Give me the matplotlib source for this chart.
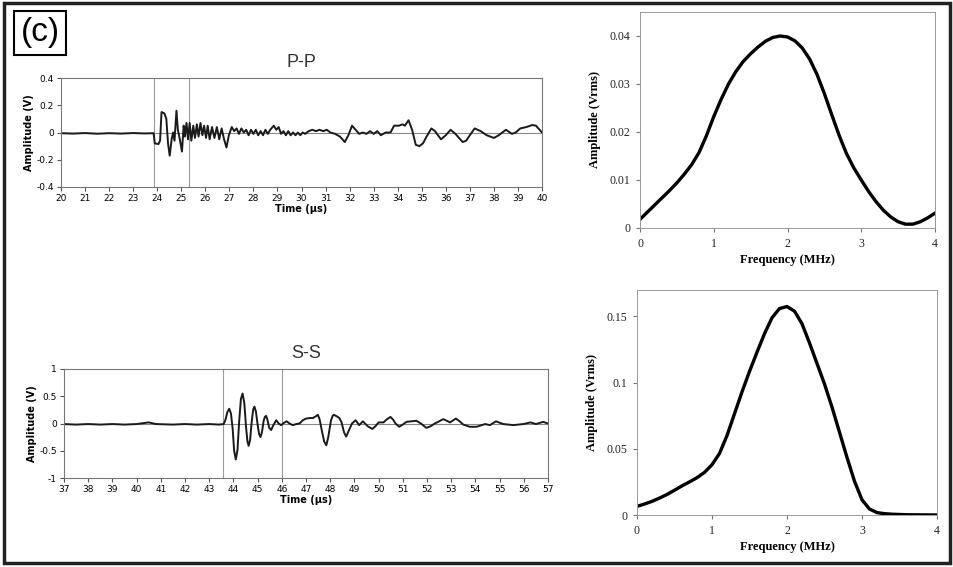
import matplotlib
matplotlib.use('Agg')
import matplotlib.pyplot as plt
from matplotlib.patches import Rectangle
from matplotlib.ticker import FuncFormatter

# P-P waveform (time in us, amplitude in V)
pp_t = [20.0, 20.5, 21.0, 21.5, 22.0, 22.5, 23.0, 23.5, 23.85, 23.9, 24.05, 24.12, 24.18, 24.3, 24.38,
        24.45, 24.52, 24.6, 24.66, 24.72, 24.8, 24.86, 24.95, 25.03, 25.1, 25.15, 25.22, 25.28, 25.35,
        25.42, 25.5, 25.57, 25.65, 25.72, 25.8, 25.88, 25.95, 26.03, 26.1, 26.18, 26.28, 26.38, 26.48,
        26.58, 26.68, 26.78, 26.88, 26.98, 27.1, 27.2, 27.3, 27.4, 27.5, 27.6, 27.7, 27.8, 27.9, 28.0,
        28.1, 28.2, 28.3, 28.4, 28.5, 28.6, 28.7, 28.85, 28.95, 29.05, 29.15, 29.25, 29.35, 29.45, 29.55,
        29.65, 29.75, 29.85, 29.95, 30.05, 30.15, 30.3, 30.45, 30.6, 30.75, 30.9, 31.05, 31.2, 31.4, 31.6,
        31.8, 31.95, 32.1, 32.25, 32.4, 32.55, 32.7, 32.85, 33.0, 33.15, 33.3, 33.5, 33.7, 33.85, 34.05,
        34.2, 34.3, 34.45, 34.6, 34.75, 34.9, 35.05, 35.2, 35.4, 35.55, 35.8, 36.0, 36.2, 36.4, 36.7,
        36.85, 37.0, 37.2, 37.45, 37.7, 38.0, 38.2, 38.5, 38.75, 38.9, 39.1, 39.35, 39.6, 39.75, 39.9, 40.0]
pp_v = [-0.005, -0.008, -0.004, -0.009, -0.005, -0.008, -0.004, -0.007, -0.005, -0.08, -0.085, -0.06, 0.15, 0.14, 0.10,
        -0.08, -0.17, -0.05, 0.0, -0.06, 0.16, 0.02, -0.06, -0.14, 0.05, -0.03, 0.07, -0.05, 0.07,
        -0.06, 0.05, -0.04, 0.06, -0.03, 0.07, -0.02, 0.05, -0.04, 0.05, -0.05, 0.04, -0.04, 0.04,
        -0.05, 0.03, -0.05, -0.11, -0.02, 0.04, 0.01, 0.03, -0.01, 0.03, 0.0, 0.02, -0.02, 0.02, -0.01,
        0.02, -0.02, 0.01, -0.02, 0.02, -0.01, 0.02, 0.05, 0.02, 0.04, -0.01, 0.01, -0.02, 0.01, -0.02,
        0.0, -0.02, 0.0, -0.02, 0.0, -0.01, 0.01, 0.02, 0.01, 0.02, 0.01, 0.02, 0.0, -0.01, -0.03,
        -0.07, -0.02, 0.05, 0.02, -0.01, 0.0, -0.01, 0.01, -0.01, 0.01, -0.02, 0.0, 0.0, 0.05, 0.05,
        0.06, 0.05, 0.09, 0.02, -0.09, -0.10, -0.08, -0.03, 0.03, 0.01, -0.05, -0.02, 0.02, -0.01, -0.07,
        -0.06, -0.02, 0.03, 0.01, -0.02, -0.04, -0.02, 0.02, -0.01, 0.0, 0.03, 0.04, 0.055, 0.05, 0.02, 0.0]
pp_gates = [23.86, 25.31]

# S-S waveform
ss_t = [37.0, 37.5, 38.0, 38.5, 39.0, 39.5, 40.0, 40.5, 40.8, 41.5, 42.0, 42.5, 43.0, 43.4, 43.6,
        43.68, 43.75, 43.83, 43.9, 43.97, 44.03, 44.1, 44.17, 44.24, 44.31, 44.38, 44.45, 44.52, 44.58,
        44.63, 44.69, 44.76, 44.82, 44.87, 44.93, 45.0, 45.06, 45.12, 45.18, 45.25, 45.3, 45.35, 45.4,
        45.48, 45.56, 45.64, 45.77, 45.87, 45.97, 46.08, 46.2, 46.32, 46.45, 46.6, 46.73, 46.87, 47.0,
        47.15, 47.28, 47.4, 47.49, 47.56, 47.65, 47.75, 47.84, 47.92, 48.03, 48.1, 48.15, 48.28, 48.38,
        48.47, 48.57, 48.66, 48.76, 48.9, 49.05, 49.2, 49.35, 49.55, 49.74, 49.87, 50.0, 50.2, 50.35,
        50.49, 50.6, 50.7, 50.85, 51.0, 51.15, 51.35, 51.56, 51.75, 51.97, 52.15, 52.32, 52.5, 52.67,
        52.82, 52.95, 53.19, 53.35, 53.5, 53.77, 54.05, 54.4, 54.6, 54.85, 55.15, 55.57, 55.98, 56.28,
        56.5, 56.8, 57.0]
ss_v = [-0.01, -0.02, -0.01, -0.02, -0.01, -0.02, -0.01, 0.02, -0.01, -0.02, -0.01, -0.02, -0.01, -0.02, -0.01,
        0.08, 0.21, 0.27, 0.18, -0.10, -0.50, -0.66, -0.48, 0.05, 0.45, 0.55, 0.38, -0.05, -0.33,
        -0.41, -0.30, 0.05, 0.26, 0.31, 0.22, -0.02, -0.19, -0.25, -0.16, 0.05, 0.12, 0.14, 0.08,
        -0.08, -0.12, -0.04, 0.06, 0.0, -0.03, 0.01, 0.04, 0.0, -0.03, -0.01, 0.0, 0.06, 0.09,
        0.10, 0.10, 0.13, 0.16, 0.08, -0.12, -0.33, -0.40, -0.25, 0.05, 0.14, 0.16, 0.13, 0.10,
        0.02, -0.16, -0.24, -0.14, 0.0, 0.06, -0.03, 0.04, -0.05, -0.10, -0.05, 0.02, 0.02, 0.08,
        0.12, 0.07, 0.0, -0.06, -0.02, 0.03, 0.04, 0.05, 0.0, -0.08, -0.05, 0.0, 0.04, 0.08,
        0.05, 0.02, 0.09, 0.04, -0.02, -0.06, -0.06, -0.01, -0.03, 0.04, -0.01, -0.03, -0.01, 0.02,
        -0.01, 0.03, 0.0]
ss_gates = [43.58, 45.99]

# spectra (MHz, Vrms)
pp_f = [0.0, 0.1, 0.2, 0.3, 0.4, 0.5, 0.6, 0.7, 0.8, 0.9, 1.0, 1.1, 1.2, 1.3, 1.4, 1.5, 1.6, 1.7, 1.8, 1.9,
        2.0, 2.1, 2.2, 2.3, 2.4, 2.5, 2.6, 2.7, 2.8, 2.9, 3.0, 3.1, 3.2, 3.3, 3.4, 3.5, 3.6, 3.7, 3.8, 3.9, 4.0]
pp_amp = [0.0018, 0.0033, 0.0048, 0.0063, 0.0078, 0.0094, 0.0112, 0.0132, 0.0157, 0.0192, 0.0232, 0.0268,
          0.0300, 0.0326, 0.0347, 0.0363, 0.0377, 0.0389, 0.0397, 0.0400, 0.0398, 0.0390, 0.0375, 0.0352,
          0.0320, 0.0280, 0.0236, 0.0193, 0.0155, 0.0125, 0.0100, 0.0076, 0.0055, 0.0037, 0.0023, 0.0013,
          0.0008, 0.0008, 0.0013, 0.0021, 0.0031]
ss_f = [0.0, 0.1, 0.2, 0.3, 0.4, 0.5, 0.6, 0.7, 0.8, 0.9, 1.0, 1.1, 1.2, 1.3, 1.4, 1.5, 1.6, 1.7, 1.8, 1.9,
        2.0, 2.1, 2.2, 2.3, 2.4, 2.5, 2.6, 2.7, 2.8, 2.9, 3.0, 3.1, 3.2, 3.3, 3.4, 3.5, 3.6, 3.8, 4.0]
ss_amp = [0.0065, 0.0083, 0.0103, 0.0128, 0.0155, 0.0187, 0.0220, 0.0250, 0.0282, 0.0322, 0.0380, 0.0465,
          0.0600, 0.0765, 0.0930, 0.1085, 0.1230, 0.1370, 0.1490, 0.1560, 0.1575, 0.1540, 0.1445, 0.1300,
          0.1145, 0.0990, 0.0815, 0.0625, 0.0435, 0.0255, 0.0115, 0.0045, 0.0018, 0.0010, 0.0006, 0.0004,
          0.0002, 0.0001, 0.0]

W, H = 954, 567
fig = plt.figure(figsize=(W / 100, H / 100), dpi=100)


def box(x0, y0, x1, y1):
    # pixel box (top-left origin) -> figure fraction
    return [x0 / W, 1 - y1 / H, (x1 - x0) / W, (y1 - y0) / H]


def plain(v, pos):
    s = ('%g' % v)
    return '0' if s in ('0', '-0') else s


def wave(rect, t, v, gates, xlim, ylim, yt, title):
    ax = fig.add_axes(rect)
    ax.axhline(0, color='#888888', lw=0.8, zorder=1)
    for g in gates:
        ax.axvline(g, color='#999999', lw=0.8, zorder=1)
    ax.plot(t, v, color='#1a1a1a', lw=1.4, zorder=2)
    ax.set_xlim(xlim)
    ax.set_ylim(ylim)
    ax.set_xticks(range(xlim[0], xlim[1] + 1))
    ax.set_yticks(yt)
    ax.yaxis.set_major_formatter(FuncFormatter(plain))
    for s in ax.spines.values():
        s.set_color('#777777')
        s.set_linewidth(0.8)
    ax.tick_params(labelsize=6.5, length=3, color='#555555', pad=2)
    ax.set_xlabel('Time (µs)', fontsize=7, fontweight='bold', labelpad=1)
    ax.set_ylabel('Amplitude (V)', fontsize=7, fontweight='bold', labelpad=2)
    ax.set_title(title, fontsize=13, color='#333333', pad=8, family='Liberation Sans')
    return ax


def spec(rect, f, a, ylim, yt):
    ax = fig.add_axes(rect)
    ax.plot(f, a, color='black', lw=2.4, solid_capstyle='round', solid_joinstyle='round')
    ax.set_xlim(0, 4)
    ax.set_ylim(ylim)
    ax.set_xticks([0, 1, 2, 3, 4])
    ax.set_yticks(yt)
    ax.yaxis.set_major_formatter(FuncFormatter(plain))
    for s in ax.spines.values():
        s.set_color('#999999')
        s.set_linewidth(0.7)
    ax.tick_params(length=3, color='#777777', pad=4, labelcolor='#222222')
    for lab in ax.get_xticklabels() + ax.get_yticklabels():
        lab.set_fontfamily('Liberation Serif')
        lab.set_fontsize(8.5)
    ax.set_xlabel('Frequency (MHz)', fontsize=9, fontweight='bold', family='Liberation Serif', labelpad=3)
    ax.set_ylabel('Amplitude (Vrms)', fontsize=9, fontweight='bold', family='Liberation Serif', labelpad=6)
    return ax


wave(box(61, 78, 542, 187), pp_t, pp_v, pp_gates, (20, 40), (-0.4, 0.4), [-0.4, -0.2, 0, 0.2, 0.4], 'P-P')
wave(box(64, 369, 548, 478), ss_t, ss_v, ss_gates, (37, 57), (-1, 1), [-1, -0.5, 0, 0.5, 1], 'S-S')
spec(box(640, 12, 935, 228), pp_f, pp_amp, (0, 0.045), [0, 0.01, 0.02, 0.03, 0.04])
spec(box(637, 290, 937, 515), ss_f, ss_amp, (0, 0.17), [0, 0.05, 0.1, 0.15])

fig.text(40 / W, 1 - 33 / H, '(c)', fontsize=24, ha='center', va='center', family='Liberation Sans',
         bbox=dict(boxstyle='square,pad=0.2', fc='white', ec='black', lw=1.5))
fig.patches.append(Rectangle((4 / W, 1 - 563 / H), 946 / W, 560 / H, transform=fig.transFigure,
                             fill=False, ec='#222222', lw=2.5))

fig.savefig('out.png', dpi=100)
